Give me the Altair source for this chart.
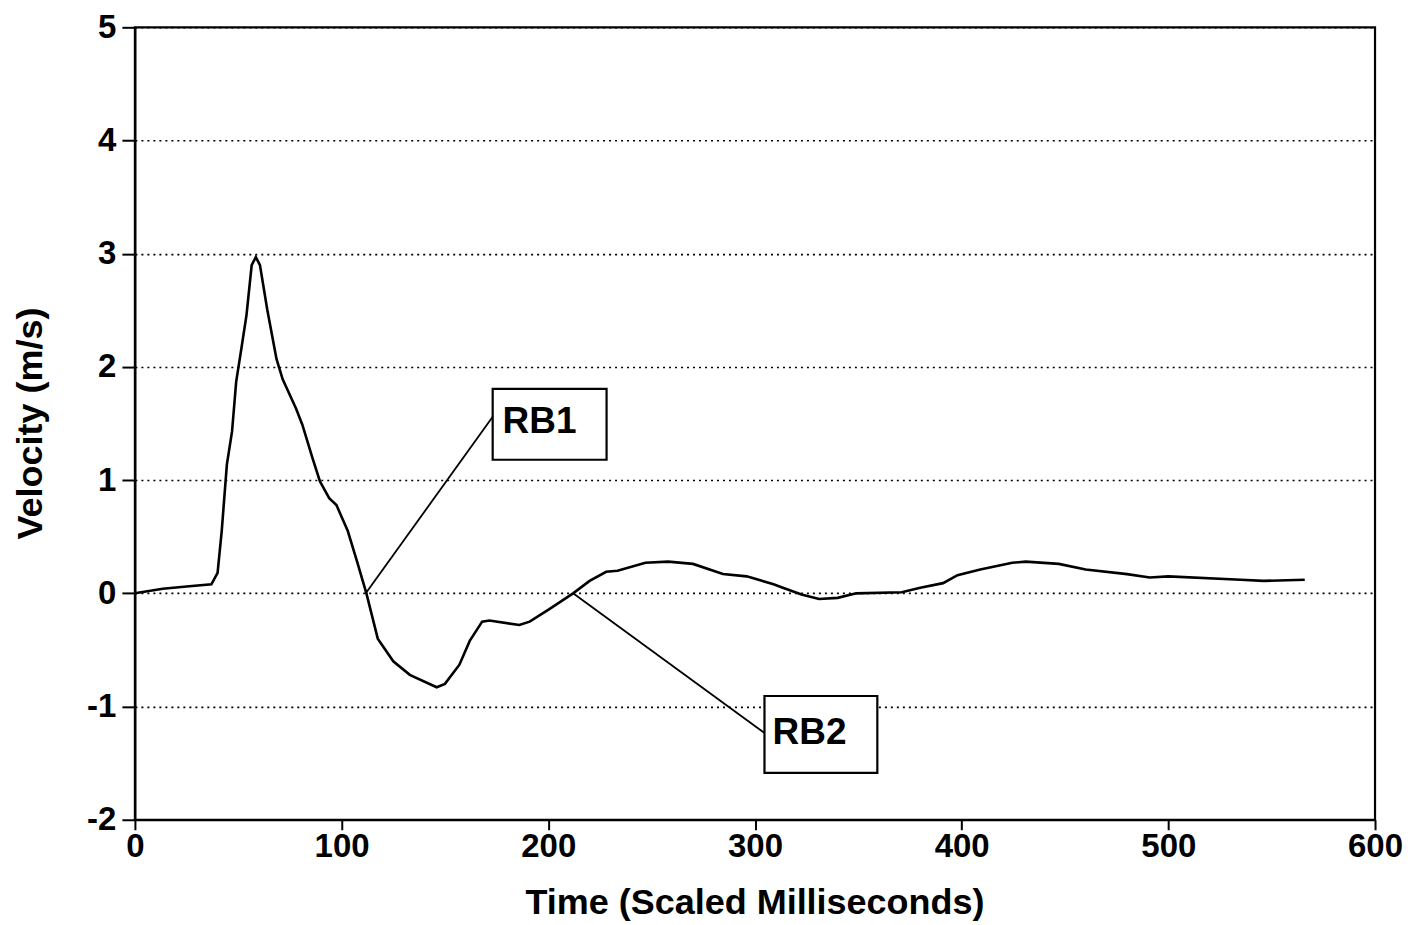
import altair as alt
import pandas as pd

# Curve values
time_ms = [0, 13.5, 25, 37, 40, 42, 44.5, 47, 49, 51.5,
           54, 56.5, 58.5, 60.5, 64, 68.5, 71.5, 78, 81, 86,
           89.5, 94, 97.5, 103, 105, 107.5, 112, 117.5, 125, 133,
           146, 150, 157, 162, 168, 171.5, 186, 191, 200.5, 212,
           220, 228, 233.5, 247, 258, 270, 284.5, 296, 309, 313.5,
           322.5, 331, 340, 349, 371, 380, 391, 398, 409, 424.5,
           431, 447, 460, 480, 491, 500, 535, 546, 566]
velocity = [0, 0.04, 0.06, 0.08, 0.18, 0.55, 1.14, 1.43, 1.87, 2.16,
            2.46, 2.90, 2.97, 2.90, 2.51, 2.07, 1.89, 1.63, 1.49, 1.19,
            0.99, 0.84, 0.78, 0.55, 0.43, 0.28, 0.0, -0.40, -0.60, -0.72,
            -0.83, -0.80, -0.63, -0.42, -0.25, -0.24, -0.28, -0.25, -0.14, 0,
            0.11, 0.19, 0.20, 0.27, 0.28, 0.26, 0.17, 0.15, 0.08, 0.05,
            -0.01, -0.05, -0.04, 0, 0.01, 0.05, 0.09, 0.16, 0.21, 0.27,
            0.28, 0.26, 0.21, 0.17, 0.14, 0.15, 0.12, 0.11, 0.12]

# Annotations
labels = ["RB1", "RB2"]
label_t = [195.8, 326.4]
label_v = [1.515, -1.233]
box_t0 = [173.1, 304.6]
box_t1 = [228.2, 359.2]
box_v0 = [1.18, -1.586]
box_v1 = [1.806, -0.907]
lead_t0 = [111.7, 212]
lead_v0 = [0, 0]
lead_t1 = [173.1, 304.6]
lead_v1 = [1.56, -1.233]

x_ticks = [0, 100, 200, 300, 400, 500, 600]
y_ticks = [-2, -1, 0, 1, 2, 3, 4, 5]

FONT = "Liberation Sans"

curve_df = pd.DataFrame({"t": time_ms, "v": velocity})
ann_df = pd.DataFrame({
    "label": labels, "lt": label_t, "lv": label_v,
    "bt0": box_t0, "bt1": box_t1, "bv0": box_v0, "bv1": box_v1,
    "t0": lead_t0, "v0": lead_v0, "t1": lead_t1, "v1": lead_v1,
})

xscale = alt.Scale(domain=[0, 600], nice=False, zero=False)
yscale = alt.Scale(domain=[-2, 5], nice=False, zero=False)

xaxis = alt.Axis(values=x_ticks, title="Time (Scaled Milliseconds)", grid=False,
                 tickSize=10, labelPadding=1, labelFlush=False,
                 labelExpr="'' + datum.value",
                 titleX=620, titleY=94,
                 titleBaseline="alphabetic", titleAnchor="start", titleAlign="center")
yaxis = alt.Axis(values=y_ticks, title="Velocity (m/s)", grid=True,
                 gridDash=[2, 4], gridColor="black", gridWidth=1.6, gridOpacity=1,
                 tickSize=13, labelPadding=6, labelFlush=False,
                 labelExpr="'' + datum.value",
                 titleX=-93, titleY=396,
                 titleBaseline="alphabetic", titleAngle=270, titleAlign="center",
                 titleAnchor="start")

curve = alt.Chart(curve_df).mark_line(color="black", strokeWidth=2.6).encode(
    x=alt.X("t:Q", scale=xscale, axis=xaxis),
    y=alt.Y("v:Q", scale=yscale, axis=yaxis),
)

leads = alt.Chart(ann_df).mark_rule(color="black", strokeWidth=1.8).encode(
    x=alt.X("t0:Q", scale=xscale), y=alt.Y("v0:Q", scale=yscale),
    x2="t1:Q", y2="v1:Q",
)

boxes = alt.Chart(ann_df).mark_rect(fill="white", stroke="black", strokeWidth=2.2).encode(
    x=alt.X("bt0:Q", scale=xscale), x2="bt1:Q",
    y=alt.Y("bv0:Q", scale=yscale), y2="bv1:Q",
)

texts = alt.Chart(ann_df).mark_text(font=FONT, fontSize=37, fontWeight="bold",
                                    color="black", align="center", baseline="middle").encode(
    x=alt.X("lt:Q", scale=xscale), y=alt.Y("lv:Q", scale=yscale), text="label:N",
)

chart = alt.layer(curve, leads, boxes, texts).properties(
    width=1241, height=793,
    autosize=alt.AutoSizeParams(type="none"),
    padding={"left": 127, "top": 19, "right": 40, "bottom": 102},
).configure_view(
    stroke="black", strokeWidth=2.2,
).configure_axis(
    labelFont=FONT, labelFontSize=33, labelFontWeight="bold", labelColor="black",
    titleFont=FONT, titleFontSize=36, titleFontWeight="bold", titleColor="black",
    domainColor="black", domainWidth=2.2, tickColor="black", tickWidth=2,
)

chart.save("out.html", embed_options={"renderer": "svg", "actions": False})
